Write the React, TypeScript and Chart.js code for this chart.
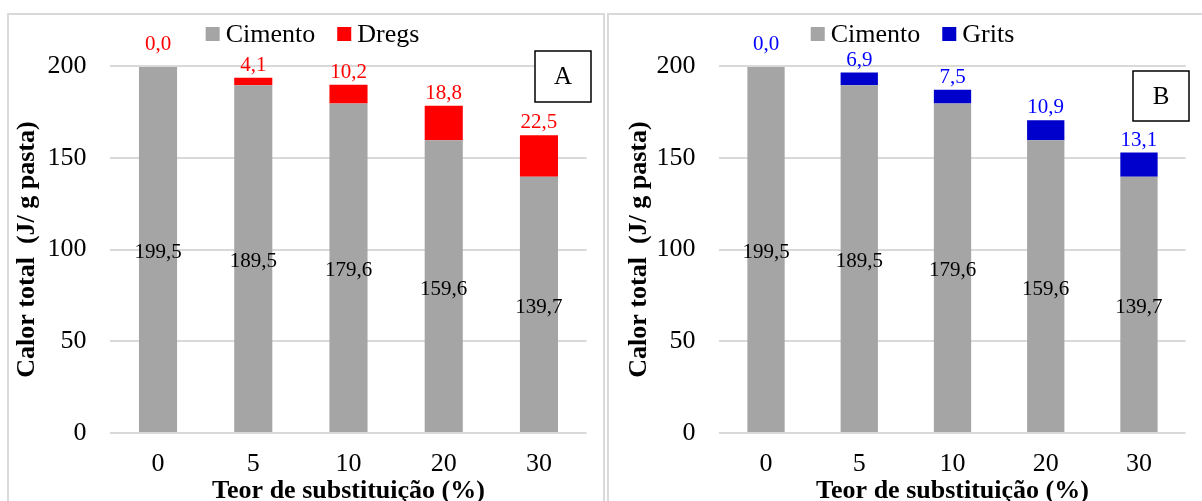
import { useEffect, useRef } from 'react';
import { Chart, registerables } from 'chart.js';

Chart.register(...registerables);

// Replacement levels (%)
const categories = ['0', '5', '10', '20', '30'];
// Heat released by the cement fraction (J/g paste)
const cimento = [199.5, 189.5, 179.6, 159.6, 139.7];
// Heat attributed to the residue fraction (J/g paste)
const dregs = [0.0, 4.1, 10.2, 18.8, 22.5];
const grits = [0.0, 6.9, 7.5, 10.9, 13.1];
// Y axis ticks
const yTicks = [0, 50, 100, 150, 200];

const SERIF = '"Liberation Serif", "Times New Roman", serif';
const GRID = '#d9d9d9';

const fmt = (v: number) => v.toFixed(1).replace('.', ',');

type Rect = { x: number; y: number; w: number; h: number };

type PanelSpec = {
  residue: string;
  residueValues: number[];
  residueColor: string;
  residueLabelColor: string;
  tag: string;
  frameLeft: number;
  frameWidth: number;
  rightBorder: boolean;
  canvas: { left: number; top: number; width: number; height: number };
  plot: { left: number; right: number; top: number; bottom: number };
  yTitleCenter: number;
  legendCenter: number;
  legendY: number;
  tagBox: Rect;
};

// Value labels: cement value centred in its segment, residue value above the stack
const valueLabels = {
  id: 'valueLabels',
  afterDatasetsDraw(chart: any, _args: any, opts: any) {
    const ctx = chart.ctx as CanvasRenderingContext2D;
    ctx.save();
    ctx.font = `21px ${SERIF}`;
    ctx.textAlign = 'center';
    ctx.textBaseline = 'middle';
    chart.data.datasets.forEach((ds: any, di: number) => {
      const meta = chart.getDatasetMeta(di);
      meta.data.forEach((bar: any, i: number) => {
        const v = ds.data[i] as number;
        const text = fmt(v);
        if (di === 0) {
          ctx.fillStyle = '#000';
          ctx.fillText(text, bar.x, (bar.y + bar.base) / 2 + 3);
        } else {
          ctx.fillStyle = opts.topColor;
          const lift = v === 0 ? 22 : 12.5;
          ctx.fillText(text, bar.x, bar.y - lift);
        }
      });
    });
    ctx.restore();
  },
};

// Legend row drawn from the datasets
const legendRow = {
  id: 'legendRow',
  afterDraw(chart: any, _args: any, opts: any) {
    const ctx = chart.ctx as CanvasRenderingContext2D;
    ctx.save();
    ctx.font = `26px ${SERIF}`;
    const box = 14;
    const gap = 6;
    const spacing = 22;
    const items = chart.data.datasets.map((ds: any) => ({ text: ds.label as string, color: ds.backgroundColor as string }));
    const widths = items.map((it: any) => box + gap + ctx.measureText(it.text).width);
    const total = widths.reduce((a: number, b: number) => a + b, 0) + spacing * (items.length - 1);
    let x = opts.centerX - total / 2;
    const y = opts.y;
    items.forEach((it: any, i: number) => {
      ctx.fillStyle = it.color;
      ctx.fillRect(x, y - box / 2, box, box);
      ctx.fillStyle = '#000';
      ctx.textAlign = 'left';
      ctx.textBaseline = 'middle';
      ctx.fillText(it.text, x + box + gap, y + 1);
      x += widths[i] + spacing;
    });
    ctx.restore();
  },
};

// Boxed panel letter
const panelTag = {
  id: 'panelTag',
  afterDraw(chart: any, _args: any, opts: any) {
    const ctx = chart.ctx as CanvasRenderingContext2D;
    const { x, y, w, h, text } = opts;
    ctx.save();
    ctx.fillStyle = '#fff';
    ctx.fillRect(x, y, w, h);
    ctx.strokeStyle = '#000';
    ctx.lineWidth = 1.5;
    ctx.strokeRect(x, y, w, h);
    ctx.fillStyle = '#000';
    ctx.font = `25px ${SERIF}`;
    ctx.textAlign = 'center';
    ctx.textBaseline = 'middle';
    ctx.fillText(text, x + w / 2, y + h / 2 + 1);
    ctx.restore();
  },
};

const panels: PanelSpec[] = [
  {
    residue: 'Dregs',
    residueValues: dregs,
    residueColor: '#ff0000',
    residueLabelColor: '#ff0000',
    tag: 'A',
    frameLeft: 7,
    frameWidth: 598,
    rightBorder: true,
    canvas: { left: 9, top: 15, width: 594, height: 489 },
    plot: { left: 110.4, right: 586.6, top: 66, bottom: 433 },
    yTitleCenter: 27,
    legendCenter: 312.5,
    legendY: 34,
    tagBox: { x: 535, y: 51, w: 56, h: 51 },
  },
  {
    residue: 'Grits',
    residueValues: grits,
    residueColor: '#0000cc',
    residueLabelColor: '#0000ff',
    tag: 'B',
    frameLeft: 607,
    frameWidth: 700,
    rightBorder: false,
    canvas: { left: 609, top: 15, width: 593, height: 489 },
    plot: { left: 719.4, right: 1185.6, top: 66, bottom: 433 },
    yTitleCenter: 639,
    legendCenter: 912.5,
    legendY: 34,
    tagBox: { x: 1133, y: 71, w: 56, h: 50 },
  },
];

function Panel({ spec }: { spec: PanelSpec }) {
  const ref = useRef<HTMLCanvasElement | null>(null);

  useEffect(() => {
    if (!ref.current) return;
    const c = spec.canvas;
    const yWidth = spec.plot.left - c.left;
    const xHeight = c.top + c.height - spec.plot.bottom;
    const titleFontSize = 26;

    const chart = new Chart(ref.current, {
      type: 'bar',
      data: {
        labels: categories,
        datasets: [
          { label: 'Cimento', data: cimento, backgroundColor: '#a5a5a5', borderWidth: 0 },
          { label: spec.residue, data: spec.residueValues, backgroundColor: spec.residueColor, borderWidth: 0 },
        ],
      },
      options: {
        responsive: false,
        maintainAspectRatio: false,
        animation: false,
        events: [],
        layout: {
          padding: {
            top: spec.plot.top - c.top,
            right: c.left + c.width - spec.plot.right,
            bottom: 0,
            left: 0,
          },
        },
        datasets: {
          bar: { barPercentage: 0.4, categoryPercentage: 1.0 },
        },
        scales: {
          x: {
            stacked: true,
            grid: { display: false, drawTicks: false },
            border: { display: false },
            ticks: { padding: 16, color: '#000', font: { family: SERIF, size: 26 } },
            title: {
              display: true,
              text: 'Teor de substituição (%)',
              color: '#000',
              font: { family: SERIF, size: titleFontSize, weight: 'bold', lineHeight: 1 },
              padding: { top: 0, bottom: 0 },
            },
            afterFit: (s: any) => {
              s.height = xHeight;
            },
          },
          y: {
            stacked: true,
            min: yTicks[0],
            max: yTicks[yTicks.length - 1],
            grid: { color: GRID, lineWidth: 2, drawTicks: false },
            border: { display: false },
            ticks: { padding: 24, color: '#000', font: { family: SERIF, size: 26 } },
            afterBuildTicks: (s: any) => {
              s.ticks = yTicks.map((v) => ({ value: v }));
            },
            title: {
              display: true,
              text: 'Calor total  (J/ g pasta)',
              color: '#000',
              font: { family: SERIF, size: titleFontSize, weight: 'bold', lineHeight: 1 },
              padding: { top: spec.yTitleCenter - c.left - titleFontSize / 2, bottom: 0 },
            },
            afterFit: (s: any) => {
              s.width = yWidth;
            },
          },
        },
        plugins: {
          legend: { display: false },
          tooltip: { enabled: false },
          valueLabels: { topColor: spec.residueLabelColor },
          legendRow: { centerX: spec.legendCenter - c.left, y: spec.legendY - c.top },
          panelTag: {
            x: spec.tagBox.x - c.left,
            y: spec.tagBox.y - c.top,
            w: spec.tagBox.w,
            h: spec.tagBox.h,
            text: spec.tag,
          },
        } as any,
      },
      plugins: [valueLabels, legendRow, panelTag],
    });
    return () => chart.destroy();
  }, [spec]);

  const c = spec.canvas;
  return (
    <>
      <div
        style={{
          position: 'absolute',
          left: spec.frameLeft,
          top: 13,
          width: spec.frameWidth,
          height: 600,
          boxSizing: 'border-box',
          borderTop: `2px solid ${GRID}`,
          borderLeft: `2px solid ${GRID}`,
          borderRight: spec.rightBorder ? `2px solid ${GRID}` : 'none',
        }}
      />
      <canvas
        ref={ref}
        width={c.width}
        height={c.height}
        style={{ position: 'absolute', left: c.left, top: c.top, width: c.width, height: c.height }}
      />
    </>
  );
}

export default function App() {
  return (
    <div
      style={{
        position: 'fixed',
        left: 0,
        top: 0,
        width: 1202,
        height: 501,
        overflow: 'hidden',
        background: '#fff',
      }}
    >
      {panels.map((p) => (
        <Panel key={p.tag} spec={p} />
      ))}
    </div>
  );
}
